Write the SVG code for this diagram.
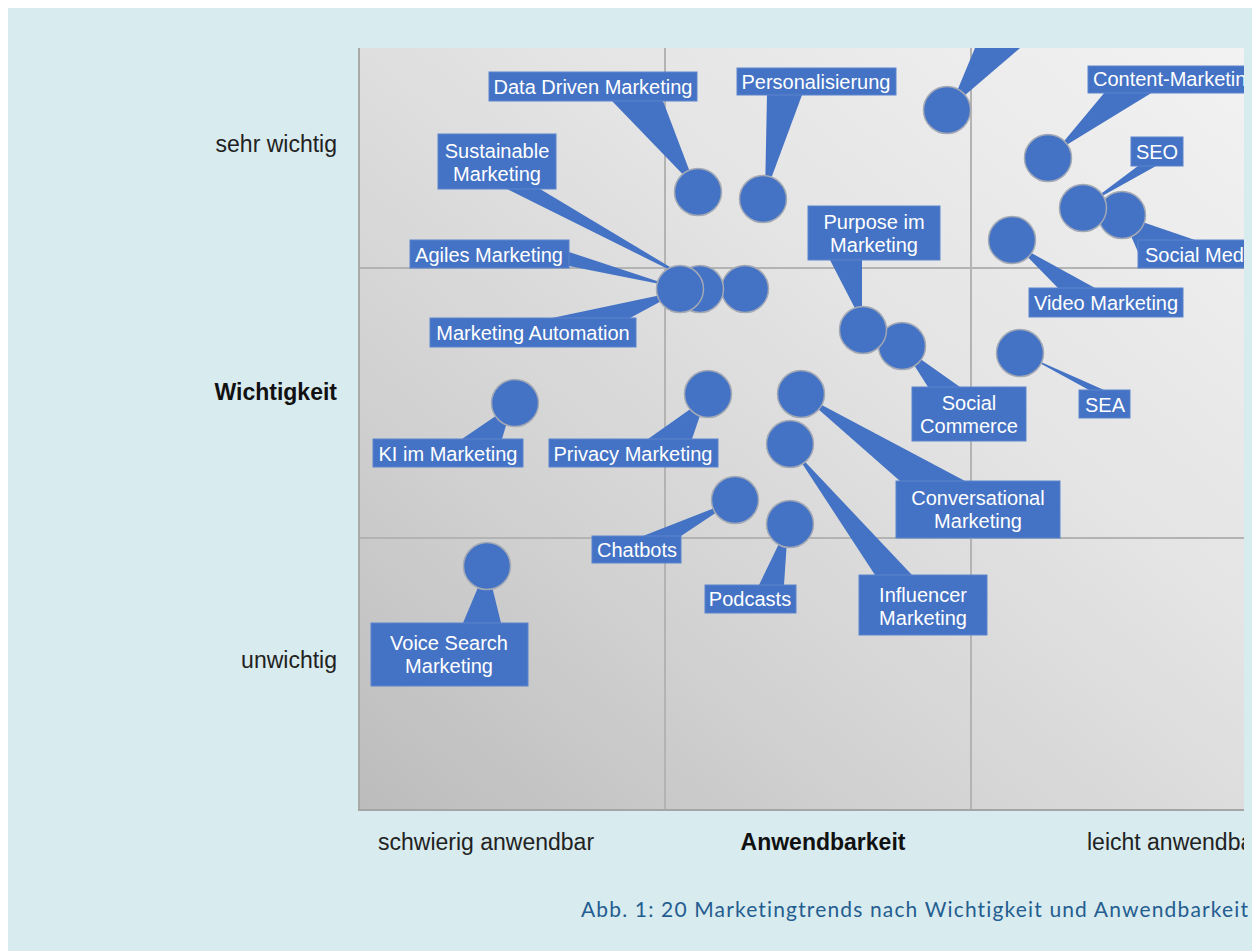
<svg xmlns="http://www.w3.org/2000/svg" width="1252" height="951" viewBox="0 0 1252 951">
<style>
.lbl{font-family:"Liberation Sans",Arial,sans-serif;font-size:20px;fill:#ffffff;text-anchor:middle}
.lbll{font-family:"Liberation Sans",Arial,sans-serif;font-size:20px;fill:#ffffff}
.box{fill:#4472c4;stroke:#5a84cc;stroke-width:1}
.dot{fill:#4472c4;stroke:#a3a9b5;stroke-width:1.5}
.tail{fill:#4472c4}
.ax{font-family:"Liberation Sans",Arial,sans-serif;font-size:23px;fill:#222222}
.axb{font-family:"Liberation Sans",Arial,sans-serif;font-size:23px;font-weight:bold;fill:#111111}
.grid{stroke:#b3b3b3;stroke-width:2;fill:none}
.cap{font-family:Lato,"Open Sans",sans-serif;font-size:21px;fill:#245d8f;font-variant-ligatures:none}
</style>
<defs>
<linearGradient id="plotbg" x1="0" y1="1" x2="1" y2="0">
<stop offset="0" stop-color="#bcbcbc"/>
<stop offset="0.3" stop-color="#d2d2d2"/>
<stop offset="0.6" stop-color="#e4e4e4"/>
<stop offset="1" stop-color="#f3f3f3"/>
</linearGradient>
<clipPath id="clip"><rect x="0" y="0" width="1244" height="951"/></clipPath>
</defs>
<rect x="0" y="0" width="1252" height="951" fill="#ffffff"/>
<rect x="8" y="8" width="1244" height="943" fill="#d8ebef"/>
<g clip-path="url(#clip)">
<g id="plot">
<rect x="358" y="48" width="920" height="762" fill="url(#plotbg)"/>
<line class="grid" x1="665" y1="48" x2="665" y2="810"/>
<line class="grid" x1="971" y1="48" x2="971" y2="810"/>
<line class="grid" x1="358" y1="268" x2="1278" y2="268"/>
<line class="grid" x1="358" y1="538" x2="1278" y2="538"/>
<line x1="359" y1="48" x2="359" y2="811" stroke="#a9a9a9" stroke-width="2"/>
<line x1="358" y1="810" x2="1278" y2="810" stroke="#a5a5a5" stroke-width="2"/>
</g>
<g id="axes">
<text class="ax" x="337" y="152" text-anchor="end">sehr wichtig</text>
<text class="axb" x="337" y="400" text-anchor="end">Wichtigkeit</text>
<text class="ax" x="337" y="668" text-anchor="end">unwichtig</text>
<text class="ax" x="378" y="850">schwierig anwendbar</text>
<text class="axb" x="823" y="850" text-anchor="middle">Anwendbarkeit</text>
<text class="ax" x="1087" y="850">leicht anwendbar</text>
</g>
<g id="connectors">
<polygon class="tail" points="612,101 663,101 696,188"/>
<polygon class="tail" points="767,95 802,95 765,195"/>
<polygon class="tail" points="975,48 1020,48 950,108"/>
<polygon class="tail" points="1105,92 1153,92 1055,152"/>
<polygon class="tail" points="1138,166 1156,166 1086,205"/>
<polygon class="tail" points="1122,215 1195,240 1138,252"/>
<polygon class="tail" points="1058,288 1095,288 1015,244"/>
<polygon class="tail" points="830,260 862,260 862,322"/>
<polygon class="tail" points="902,346 928,387 960,387"/>
<polygon class="tail" points="1025,355 1089,390 1104,390"/>
<polygon class="tail" points="801,394 900,481 965,481"/>
<polygon class="tail" points="792,448 875,575 912,575"/>
<polygon class="tail" points="735,500 643,536 681,536"/>
<polygon class="tail" points="759,585 784,585 788,525"/>
<polygon class="tail" points="463,623 501,623 487,566"/>
<polygon class="tail" points="462,439 502,439 512,405"/>
<polygon class="tail" points="648,439 692,439 706,398"/>
<polygon class="tail" points="507,189 540,189 700,285"/>
<polygon class="tail" points="569,252 569,266 675,287"/>
<polygon class="tail" points="552,318 630,318 680,291"/>
</g>
<g id="top-cut"><circle class="dot" cx="947" cy="110" r="23.5"/></g>
<g id="data-driven"><rect class="box" x="489" y="72" width="208" height="29"/><text class="lbl" x="593" y="94">Data Driven Marketing</text><circle class="dot" cx="698" cy="192" r="23.5"/></g>
<g id="personalisierung"><rect class="box" x="737" y="68" width="159" height="27"/><text class="lbl" x="816" y="89">Personalisierung</text><circle class="dot" cx="763" cy="199" r="23.5"/></g>
<g id="content-marketing"><rect class="box" x="1088" y="66" width="170" height="27"/><text class="lbll" x="1093" y="86">Content-Marketing</text><circle class="dot" cx="1048" cy="158" r="23.5"/></g>
<g id="social-media"><circle class="dot" cx="1122" cy="215" r="23.5"/><rect class="box" x="1138" y="240" width="130" height="28"/><text class="lbll" x="1145" y="262">Social Media</text></g>
<g id="seo"><rect class="box" x="1131" y="137" width="52" height="29"/><text class="lbl" x="1157" y="159">SEO</text><circle class="dot" cx="1083" cy="208" r="23.5"/></g>
<g id="video-marketing"><rect class="box" x="1029" y="288" width="154" height="29"/><text class="lbl" x="1106" y="310">Video Marketing</text><circle class="dot" cx="1012" cy="240" r="23.5"/></g>
<g id="social-commerce"><rect class="box" x="912" y="387" width="114" height="54"/><text class="lbl" x="969" y="410">Social</text><text class="lbl" x="969" y="433">Commerce</text><circle class="dot" cx="902" cy="346" r="23.5"/></g>
<g id="purpose"><rect class="box" x="808" y="206" width="132" height="54"/><text class="lbl" x="874" y="229">Purpose im</text><text class="lbl" x="874" y="252">Marketing</text><circle class="dot" cx="863" cy="330" r="23.5"/></g>
<g id="sea"><rect class="box" x="1079" y="390" width="51" height="28"/><text class="lbl" x="1105" y="412">SEA</text><circle class="dot" cx="1020" cy="353" r="23.5"/></g>
<g id="conversational"><rect class="box" x="896" y="481" width="164" height="57"/><text class="lbl" x="978" y="505">Conversational</text><text class="lbl" x="978" y="528">Marketing</text><circle class="dot" cx="801" cy="394" r="23.5"/></g>
<g id="influencer"><rect class="box" x="859" y="575" width="128" height="60"/><text class="lbl" x="923" y="602">Influencer</text><text class="lbl" x="923" y="625">Marketing</text><circle class="dot" cx="790" cy="444" r="23.5"/></g>
<g id="chatbots"><rect class="box" x="592" y="536" width="89" height="27"/><text class="lbl" x="637" y="557">Chatbots</text><circle class="dot" cx="735" cy="500" r="23.5"/></g>
<g id="podcasts"><rect class="box" x="705" y="585" width="91" height="28"/><text class="lbl" x="750" y="606">Podcasts</text><circle class="dot" cx="790" cy="524" r="23.5"/></g>
<g id="voice-search"><rect class="box" x="371" y="623" width="157" height="63"/><text class="lbl" x="449" y="650">Voice Search</text><text class="lbl" x="449" y="673">Marketing</text><circle class="dot" cx="487" cy="566" r="23.5"/></g>
<g id="ki"><rect class="box" x="373" y="439" width="150" height="28"/><text class="lbl" x="448" y="461">KI im Marketing</text><circle class="dot" cx="515" cy="403" r="23.5"/></g>
<g id="privacy"><rect class="box" x="549" y="439" width="169" height="28"/><text class="lbl" x="633" y="461">Privacy Marketing</text><circle class="dot" cx="708" cy="394" r="23.5"/></g>
<g id="cluster-right"><circle class="dot" cx="745" cy="289" r="23.5"/></g>
<g id="sustainable"><rect class="box" x="438" y="134" width="118" height="55"/><text class="lbl" x="497" y="158">Sustainable</text><text class="lbl" x="497" y="181">Marketing</text><circle class="dot" cx="700" cy="289" r="23.5"/></g>
<g id="agiles"><rect class="box" x="410" y="240" width="159" height="28"/><text class="lbl" x="489" y="262">Agiles Marketing</text></g>
<g id="automation"><rect class="box" x="430" y="318" width="206" height="29"/><text class="lbl" x="533" y="340">Marketing Automation</text><circle class="dot" cx="680" cy="289" r="23.5"/></g>
</g>
<text class="cap" x="1248" y="917" text-anchor="end" textLength="667" lengthAdjust="spacing">Abb. 1: 20 Marketingtrends nach Wichtigkeit und Anwendbarkeit</text>
</svg>
